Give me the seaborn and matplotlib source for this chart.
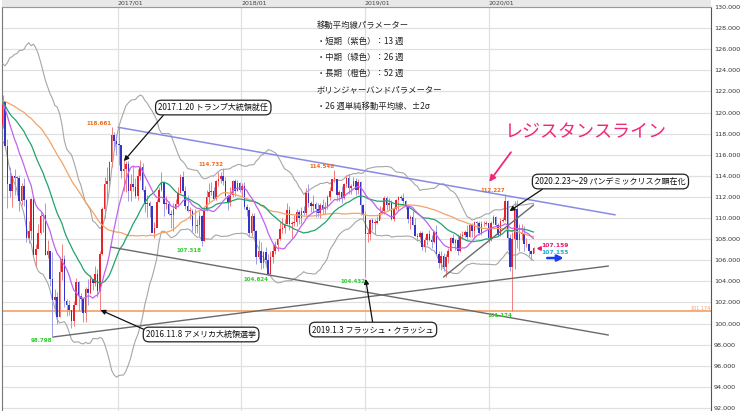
import numpy as np
import pandas as pd
import seaborn as sns
import matplotlib
matplotlib.use('Agg')
import matplotlib.pyplot as plt
import matplotlib.dates as mdates
from matplotlib.patches import Rectangle

sns.set_theme(style='white')
plt.rcParams['font.family'] = ['Noto Sans CJK JP', 'DejaVu Sans']

#===============================================================================
# USD/JPY weekly closes before the visible window (warm-up for the averages)
warm_close = [119.1, 118.7, 119.0, 119.6,                  # 2015/02
              120.8, 121.4, 120.0, 119.1, 119.0,
              120.2, 118.9, 118.9, 119.8,
              119.7, 119.3, 121.5, 124.1,
              125.6, 123.4, 122.7, 123.9, 122.8,
              122.6, 124.0, 123.8, 123.9,
              124.2, 124.3, 122.0, 121.7, 119.0,
              120.6, 120.0, 120.6, 119.9,
              120.2, 119.4, 121.4, 120.6,
              123.1, 122.6, 122.8, 122.8, 123.1,
              120.9, 121.2, 120.3, 120.2,
              117.2, 117.0, 118.8]                         # 2016/01

# weekly candles, first week starts 2016-01-25 (one line per month)
week_start = '2016-01-25'
week_high = [121.7,
             121.0, 117.5, 114.8, 114.0, 114.6,
             114.0, 114.1, 113.3, 113.8,
             111.8, 109.7, 111.9, 111.9,
             107.5, 109.4, 110.6, 110.4, 111.4,
             107.9, 106.9, 106.8, 103.3,
             103.0, 106.3, 107.5, 106.5,
             102.3, 102.2, 101.3, 102.1, 104.3,
             104.0, 102.9, 102.4, 103.5,
             104.2, 104.6, 104.2, 105.5, 105.2,
             106.9, 111.0, 113.9, 114.8,
             115.4, 118.66, 118.2, 118.0,
             # 2017
             118.6, 116.9, 115.6, 115.4, 115.4,
             114.2, 114.9, 113.8, 114.6,
             115.5, 115.2, 113.0, 112.2,
             111.6, 111.1, 109.6, 111.8,
             112.9, 114.4, 113.5, 112.1, 111.6,
             110.8, 111.4, 111.8, 112.9,
             114.2, 114.5, 113.0, 112.2, 111.0,
             110.9, 110.9, 109.9, 110.7,
             110.3, 111.0, 112.7, 113.3,
             113.4, 112.9, 113.6, 114.4, 114.4,
             114.73, 113.9, 112.3, 112.9,
             113.6, 113.7, 113.6, 113.4,
             # 2018
             113.3, 113.4, 111.3, 111.0, 110.5,
             110.5, 108.9, 107.9, 107.7,
             106.9, 107.3, 106.6, 106.9,
             107.5, 107.8, 108.1, 109.6, 110.0,
             109.9, 111.4, 111.1, 109.7,
             110.3, 110.9, 110.8, 111.0,
             111.1, 112.8, 113.2, 111.6, 112.2,
             111.5, 111.4, 111.4, 111.8,
             111.5, 112.2, 112.9, 113.7,
             114.55, 113.6, 112.7, 113.0, 113.3,
             114.1, 114.2, 113.2, 113.9,
             113.8, 113.7, 113.5, 111.3, 110.7,
             # 2019
             109.0, 109.9, 110.0, 109.9,
             110.2, 111.1, 111.0, 112.1,
             112.1, 111.9, 111.7, 111.0,
             111.8, 112.1, 112.2, 112.4, 111.7,
             111.1, 110.3, 110.7, 110.0,
             108.6, 108.8, 108.8, 108.2,
             108.6, 108.9, 108.4, 108.8, 109.3,
             106.9, 106.9, 106.7, 106.6,
             107.2, 108.2, 108.5, 108.0, 108.5,
             108.6, 108.8, 108.9, 109.3,
             109.5, 109.5, 109.7, 109.7,
             109.7, 109.7, 109.7, 109.7, 109.2,
             # 2020
             109.7, 110.3, 110.2, 109.5,
             110.0, 110.1, 112.23, 111.7,
             108.5, 108.7, 111.6, 111.7, 109.4,
             109.4, 109.2, 108.1, 107.6,
             107.0, 107.3]
week_low = [118.5,
            116.5, 110.98, 112.0, 111.0, 112.2,
            112.2, 110.7, 111.2, 111.1,
            107.7, 107.6, 107.9, 106.3,
            105.5, 107.8, 108.5, 108.7, 106.5,
            106.2, 103.6, 98.8, 101.4,
            99.99, 100.6, 104.1, 101.6,
            100.7, 100.8, 99.55, 99.8, 101.9,
            101.2, 101.3, 100.1, 100.1,
            101.8, 102.8, 103.2, 103.6, 102.5,
            101.19, 106.5, 110.0, 111.4,
            112.9, 114.8, 116.5, 116.0,
            # 2017
            115.0, 113.8, 112.6, 112.5, 111.6,
            111.6, 112.6, 111.9, 111.7,
            113.6, 112.6, 110.6, 110.1,
            110.1, 108.7, 108.1, 109.8,
            111.5, 112.6, 110.2, 110.9, 110.3,
            109.1, 108.8, 110.9, 111.0,
            112.4, 112.6, 110.9, 110.6, 109.9,
            108.7, 108.6, 108.6, 108.3,
            107.32, 107.8, 110.7, 111.5,
            112.2, 111.7, 111.7, 113.0, 113.3,
            113.1, 112.0, 110.8, 111.1,
            112.0, 112.1, 112.6, 112.5,
            # 2018
            112.0, 110.9, 110.2, 108.3, 108.3,
            108.1, 105.6, 106.1, 105.2,
            105.3, 105.6, 104.62, 104.7,
            105.7, 106.6, 106.9, 107.9, 108.6,
            108.6, 109.4, 108.9, 108.1,
            109.2, 109.2, 109.4, 109.4,
            110.3, 110.3, 111.0, 110.6, 110.6,
            110.1, 110.1, 110.0, 110.4,
            110.4, 110.9, 111.7, 112.6,
            113.4, 111.6, 111.6, 111.4, 111.8,
            112.9, 112.3, 112.3, 113.0,
            112.2, 112.3, 110.3, 109.9, 104.43,
            # 2019
            107.7, 107.9, 108.9, 108.5,
            109.4, 109.9, 110.4, 110.4,
            110.8, 110.8, 109.8, 109.7,
            110.8, 110.8, 111.7, 111.4, 110.9,
            109.5, 109.0, 109.3, 108.3,
            107.8, 108.0, 107.0, 106.8,
            107.4, 107.8, 107.2, 107.6, 106.8,
            105.3, 105.1, 105.0, 104.45,
            105.7, 106.9, 107.5, 106.95, 106.5,
            106.8, 108.1, 108.2, 107.9,
            108.2, 108.2, 108.2, 109.0,
            108.4, 108.4, 109.2, 109.3, 107.6,
            # 2020
            107.8, 109.4, 109.2, 108.3,
            108.3, 109.6, 109.7, 107.0,
            105.0, 101.174, 105.2, 107.2, 106.9,
            107.9, 106.9, 107.3, 106.4,
            105.98, 106.7]
week_close = [121.1,
              116.8, 113.2, 112.6, 114.0, 113.8,
              113.8, 111.6, 113.0, 111.7,
              108.1, 108.8, 111.8, 106.5,
              107.1, 108.6, 110.2, 110.3, 106.5,
              106.9, 104.2, 102.2, 102.5,
              100.6, 104.9, 106.1, 102.1,
              101.8, 101.3, 100.2, 101.8, 103.9,
              102.6, 102.3, 101.0, 103.3,
              102.9, 104.2, 103.8, 104.7, 103.1,
              106.6, 110.9, 113.2, 113.5,
              115.3, 117.9, 117.3, 117.0,
              # 2017
              116.9, 114.5, 114.6, 115.1, 112.6,
              113.2, 112.9, 112.1, 114.0,
              114.8, 112.7, 111.3, 111.4,
              111.1, 108.6, 109.1, 111.5,
              112.7, 113.4, 111.3, 111.3, 110.4,
              110.3, 110.9, 111.3, 112.4,
              113.9, 112.6, 111.1, 110.7, 110.7,
              109.2, 109.2, 109.3, 110.2,
              107.8, 110.8, 112.0, 112.5,
              112.6, 111.8, 113.5, 113.7, 114.0,
              113.5, 112.1, 111.5, 112.2,
              113.5, 112.6, 113.3, 112.7,
              # 2018
              113.0, 111.0, 110.8, 108.6, 110.2,
              108.8, 106.3, 106.9, 105.7,
              106.8, 106.0, 104.7, 106.3,
              106.9, 107.4, 108.0, 109.0, 109.1,
              109.4, 110.8, 109.4, 109.5,
              109.6, 110.6, 110.0, 110.7,
              110.5, 112.4, 111.4, 111.1, 111.3,
              110.9, 110.5, 111.2, 110.9,
              111.0, 112.0, 112.6, 113.7,
              113.7, 112.2, 112.5, 111.9, 113.2,
              113.8, 112.8, 113.0, 113.5,
              112.7, 113.4, 111.2, 110.3, 108.5,
              # 2019
              108.5, 109.8, 109.5, 109.5,
              109.7, 110.5, 110.7, 111.9,
              111.2, 111.4, 109.9, 110.9,
              111.7, 112.0, 111.9, 111.6, 111.1,
              109.9, 110.1, 109.3, 108.3,
              108.2, 108.6, 107.3, 107.9,
              108.5, 107.9, 107.7, 108.7, 106.6,
              105.7, 106.4, 105.4, 106.3,
              106.9, 108.1, 107.6, 107.9, 106.9,
              108.3, 108.4, 108.7, 108.2,
              109.3, 108.8, 109.6, 109.5,
              108.6, 109.4, 109.4, 109.5, 108.1,
              # 2020
              109.5, 110.1, 109.3, 108.4,
              109.7, 109.8, 111.6, 108.1,
              105.4, 108.0, 110.9, 107.9, 108.5,
              108.5, 107.5, 107.5, 106.9,
              106.6, 107.16]

# price labels (week start, price)
peak_weeks = ['2016-12-12', '2017-11-06', '2018-10-01', '2020-02-17']
peak_prices = [118.661, 114.732, 114.548, 112.227]
trough_weeks = ['2016-06-20', '2017-09-04', '2018-03-19', '2018-12-31', '2020-03-09']
trough_prices = [98.798, 107.318, 104.624, 104.432, 101.174]
last_bid, last_ask = 107.159, 107.155
hline_price = 101.174

# drawn trend lines (start, end)
resist_dates, resist_prices = ['2017-01-02', '2021-01-09'], [118.60, 110.30]
down_dates, down_prices = ['2016-12-11', '2020-12-20'], [107.25, 98.91]
up_dates, up_prices = ['2016-06-23', '2020-12-20'], [98.72, 105.45]
short_dates, short_prices = ['2019-08-21', '2020-05-13'], [104.41, 111.23]

# callouts: text, text anchor, arrow tip
events = ['2017.1.20 トランプ大統領就任', '2016.11.8 アメリカ大統領選挙',
          '2019.1.3 フラッシュ・クラッシュ', '2020.2.23〜29 パンデミックリスク顕在化']
event_text_at = [('2017-10-10', 120.47), ('2017-09-04', 98.96),
                 ('2019-01-25', 99.43), ('2020-12-26', 113.46)]
event_tip_at = [('2017-01-19', 115.40), ('2016-11-11', 101.28),
                ('2019-01-03', 104.22), ('2020-03-03', 110.66)]
event_relpos = [(0.07, 0.0), (0.02, 0.85), (0.5, 1.0), (0.08, 0.0)]

notes = ['移動平均線パラメーター', '・短期（紫色）：13 週', '・中期（緑色）：26 週',
         '・長期（橙色）：52 週', 'ボリンジャーバンドパラメーター', '・26 週単純移動平均線、±2σ']

year_ticks = ['2017-01-01', '2018-01-01', '2019-01-01', '2020-01-01']
year_labels = ['2017/01', '2018/01', '2019/01', '2020/01']

#===============================================================================
def dn(s):
    return mdates.date2num(pd.Timestamp(s))

hi = np.array(week_high)
lo = np.array(week_low)
cl = np.array(week_close)
op = np.r_[warm_close[-1], cl[:-1]]
n = len(cl)
weeks = pd.date_range(week_start, periods=n, freq='7D')
xs = mdates.date2num(weeks) + 2  # mid-week

s = pd.Series(warm_close + week_close)
w = len(warm_close)
ma13 = s.rolling(13).mean().values[w:]
ma26 = s.rolling(26).mean().values[w:]
ma52 = s.rolling(52).mean().values[w:]
sd26 = s.rolling(26).std(ddof=0).values[w:]
bb_up = ma26 + 2 * sd26
bb_lo = ma26 - 2 * sd26

fig = plt.figure(figsize=(7.4, 4.11), dpi=100)
ax = fig.add_axes([2 / 740, 0, 709 / 740, 404 / 411])

ax.set_xlim(dn('2016-01-25'), dn('2021-10-19'))
ax.set_ylim(91.71, 130)

# grid
ax.set_axisbelow(True)
ax.set_yticks(np.arange(92, 131, 2))
ax.set_xticks([dn(d) for d in year_ticks])
ax.grid(True, color='#e0e0e0', lw=0.9)

# bollinger + moving averages
for band in [bb_up, bb_lo]:
    sns.lineplot(x=xs, y=band, color='#a6a6a6', lw=0.8, ax=ax, zorder=3)

# candles
up = cl >= op
ax.vlines(xs[up], lo[up], hi[up], color='#f07f7f', lw=0.7, zorder=4)
ax.vlines(xs[~up], lo[~up], hi[~up], color='#9d9de3', lw=0.7, zorder=4)
body = np.maximum(np.abs(cl - op), 0.08)
ax.bar(xs, body, bottom=np.minimum(op, cl), width=4.6,
       color=np.where(up, '#e6222a', '#3434c6'), linewidth=0, zorder=5)

sns.lineplot(x=xs, y=ma52, color='#f2a466', lw=0.9, ax=ax, zorder=6)
sns.lineplot(x=xs, y=ma26, color='#22a36b', lw=0.9, ax=ax, zorder=6)
sns.lineplot(x=xs, y=ma13, color='#c262ef', lw=0.9, ax=ax, zorder=6)

# trend lines
ax.axhline(hline_price, color='#f5a060', lw=1.2, zorder=2)
ax.plot([dn(d) for d in resist_dates], resist_prices, color='#8a8ae6', lw=1.1, zorder=7)
for dd, pp in [(down_dates, down_prices), (up_dates, up_prices), (short_dates, short_prices)]:
    ax.plot([dn(d) for d in dd], pp, color='#6a6a6a', lw=1.0, zorder=7)

# high / low labels
for d, p in zip(peak_weeks, peak_prices):
    ax.annotate(f'{p:.3f}', (dn(d) + 2, p), xytext=(0, 0.8), textcoords='offset points',
                ha='right', va='bottom', fontsize=4, fontweight='bold',
                color='#f26a1b', family='DejaVu Sans', zorder=9)
for d, p in zip(trough_weeks, trough_prices):
    ax.annotate(f'{p:.3f}', (dn(d) + 2, p), xytext=(0, -1.5), textcoords='offset points',
                ha='right', va='top', fontsize=4, fontweight='bold',
                color='#2fcc2f', family='DejaVu Sans', zorder=9)
ax.text(ax.get_xlim()[1] - 1, hline_price, f'{hline_price:.3f}', ha='right', va='bottom',
        fontsize=3.5, color='#f0a070', family='DejaVu Sans')

# current price
last_x = xs[-1]
ax.plot(last_x + 15, last_bid, marker='<', ms=2.5, color='#e8186e', zorder=9)
ax.annotate(f'{last_bid:.3f}', (last_x, last_bid), xytext=(5.8, 1.8), textcoords='offset points',
            ha='left', va='center', fontsize=4.3, fontweight='bold', color='#e8186e',
            family='DejaVu Sans')
ax.annotate(f'{last_ask:.3f}', (last_x, last_ask), xytext=(5.8, -3.2), textcoords='offset points',
            ha='left', va='center', fontsize=4.3, fontweight='bold', color='#1ea9da',
            family='DejaVu Sans')
ax.annotate('', xy=(last_x + 97, last_bid - 0.95), xytext=(last_x + 32, last_bid - 0.95),
            arrowprops=dict(arrowstyle='-|>', color='#1a3cf0', lw=1.8, mutation_scale=9))

# callouts
for txt, (td, tp), (ad, ap), rp in zip(events, event_text_at, event_tip_at, event_relpos):
    ax.annotate(txt, xy=(dn(ad), ap), xytext=(dn(td), tp), ha='center', va='center',
                fontsize=5.8, color='#111111', zorder=10,
                bbox=dict(boxstyle='round,pad=0.35,rounding_size=0.7', fc='white',
                          ec='#222222', lw=0.9),
                arrowprops=dict(arrowstyle='-|>', color='#111111', lw=0.9,
                                mutation_scale=7, relpos=rp, shrinkA=0, shrinkB=0))

# resistance caption
ax.text(dn('2020-10-14'), 118.15, 'レジスタンスライン', ha='center', va='center',
        fontsize=13, color='#f0287a', zorder=10)
ax.annotate('', xy=(dn('2019-12-29'), 113.22), xytext=(dn('2020-03-12'), 116.45),
            arrowprops=dict(arrowstyle='-|>', color='#f0287a', lw=1.3, mutation_scale=9))

# parameter notes
for i, line in enumerate(notes):
    ax.annotate(line, (dn('2018-08-11'), 128.29), xytext=(0, -11.66 * i),
                textcoords='offset points', ha='left', va='center',
                fontsize=6, color='#222222')

# axes styling
ax.xaxis.tick_top()
ax.set_xticklabels(year_labels)
for lab in ax.get_xticklabels():
    lab.set_ha('left')
    lab.set_family('DejaVu Sans')
ax.tick_params(axis='x', length=0, pad=0.8, labelsize=4.5, colors='#444444')
ax.yaxis.tick_right()
ax.set_yticklabels([f'{v:.3f}' for v in np.arange(92, 131, 2)])
for lab in ax.get_yticklabels():
    lab.set_family('DejaVu Sans')
ax.tick_params(axis='y', length=0, pad=2, labelsize=4.6, colors='#333333')
ax.set_xlabel('')
ax.set_ylabel('')
ax.add_patch(Rectangle((0, 1), 1, 7 / 404, transform=ax.transAxes, facecolor='#e8e8e8',
                       edgecolor='none', clip_on=False, zorder=0))
for side, c in [('left', '#777777'), ('right', '#555555'), ('top', '#999999')]:
    ax.spines[side].set_color(c)
    ax.spines[side].set_linewidth(0.8)
ax.spines['bottom'].set_visible(False)

fig.savefig('out.png', dpi=100)
